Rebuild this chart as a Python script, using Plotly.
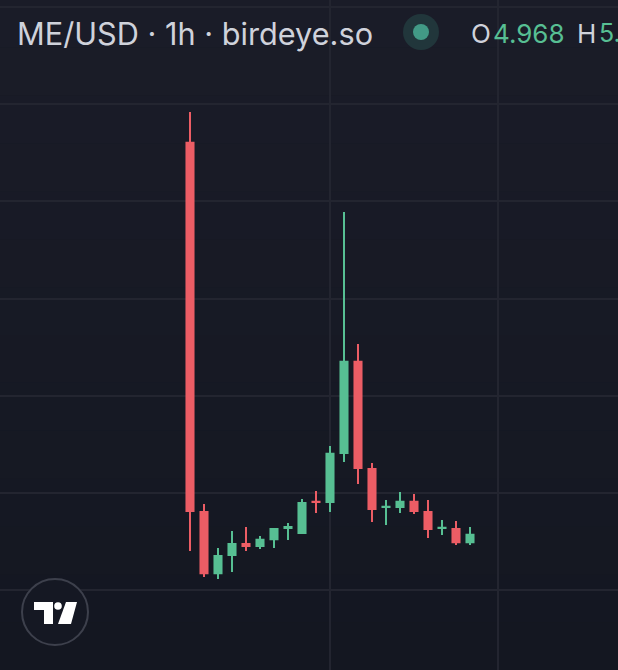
import plotly.graph_objects as go

# Candle data (price, one candle per hour)
candle_index = list(range(21))
open_prices = [13.222, 5.626, 4.329, 4.700, 4.967, 4.885, 5.029, 5.256, 5.153, 5.832,
               5.791, 6.800, 8.714, 6.511, 5.688, 5.688, 5.832, 5.626, 5.256, 5.276, 4.967]
high_prices = [13.840, 5.770, 4.865, 5.215, 5.297, 5.112, 5.276, 5.379, 5.873, 6.038,
               6.964, 11.781, 9.064, 6.614, 5.853, 6.017, 5.976, 5.853, 5.441, 5.420, 5.297]
low_prices = [4.803, 4.268, 4.226, 4.371, 4.803, 4.844, 4.865, 5.029, 5.153, 5.585,
              5.606, 6.635, 6.182, 5.400, 5.338, 5.585, 5.564, 5.070, 5.132, 4.926, 4.926]
close_prices = [5.606, 4.329, 4.720, 4.967, 4.885, 5.050, 5.276, 5.317, 5.811, 5.791,
                6.820, 8.714, 6.491, 5.647, 5.729, 5.832, 5.606, 5.235, 5.297, 4.967, 5.153]

price_grid = [4, 6, 8, 10, 12, 14, 16]
time_grid = [10, 22]

W = 618
H = 670
BG_TOP = (26, 28, 40)
BG_BOTTOM = (20, 23, 33)
GRID = '#232530'
RED = '#ec5d65'
GREEN = '#57bf93'
BANDS = 14

# the body outline adds a pixel on each side, so pull the body in by that much
INSET = 0.018


def px(x, y):
    # pixel position in the window -> paper coordinates
    return x / W, 1 - y / H


def path(points):
    parts = []
    for i, (x, y) in enumerate(points):
        a, b = px(x, y)
        parts.append(('M' if i == 0 else 'L') + f'{a:.5f},{b:.5f}')
    return ' '.join(parts) + ' Z'


def circle(cx, cy, r, fill, line_color=None, line_width=0):
    x0, y0 = px(cx - r, cy - r)
    x1, y1 = px(cx + r, cy + r)
    return dict(type='circle', xref='paper', yref='paper', x0=x0, y0=y0, x1=x1, y1=y1,
                fillcolor=fill, line=dict(color=line_color or fill, width=line_width),
                layer='above')


def label(text, x, y, color, size):
    a, b = px(x, y)
    return dict(text=text, x=a, y=b, xref='paper', yref='paper', xanchor='left', yanchor='middle',
                showarrow=False, font=dict(family='Inter', size=size, color=color))


def background_bands():
    # the page background fades slightly darker downwards
    bands = []
    for i in range(BANDS):
        t = i / (BANDS - 1)
        rgb = [round(a + (b - a) * t) for a, b in zip(BG_TOP, BG_BOTTOM)]
        bands.append(dict(type='rect', xref='paper', yref='paper', layer='below',
                          x0=0, x1=1, y0=1 - (i + 1) / BANDS, y1=1 - i / BANDS,
                          fillcolor=f'rgb({rgb[0]},{rgb[1]},{rgb[2]})', line=dict(width=0)))
    return bands


body_open = [o + INSET if c > o else o - INSET for o, c in zip(open_prices, close_prices)]
body_close = [c - INSET if c > o else c + INSET for o, c in zip(open_prices, close_prices)]

fig = go.Figure(go.Candlestick(
    x=candle_index,
    open=body_open,
    high=high_prices,
    low=low_prices,
    close=body_close,
    increasing=dict(line=dict(color=GREEN, width=2), fillcolor=GREEN),
    decreasing=dict(line=dict(color=RED, width=2), fillcolor=RED),
    whiskerwidth=0,
))

shapes = background_bands() + [
    circle(421, 32, 18, '#21363b'),
    circle(421, 32, 8, '#429a86'),
    circle(55, 612, 33, '#151823', '#3d404c', 2),
    dict(type='path', xref='paper', yref='paper', layer='above', fillcolor='white', line=dict(width=0),
         path=path([(34, 602), (53, 602), (53, 624), (44, 624), (44, 610), (34, 610)])),
    circle(58, 606, 3.8, 'white'),
    dict(type='path', xref='paper', yref='paper', layer='above', fillcolor='white', line=dict(width=0),
         path=path([(66, 602), (77, 602), (71, 624), (58, 624)])),
]

annotations = [
    label('ME/USD · 1h · birdeye.so', 15, 33, '#cfd2db', 30.7),
    label('O', 469, 33, '#cfd2db', 26),
    label('4.968', 491, 33, GREEN, 26),
    label('H', 575, 33, '#cfd2db', 26),
    label('5.', 597, 33, GREEN, 25),
]

fig.update_layout(
    width=W,
    height=H,
    margin=dict(l=0, r=0, t=0, b=0),
    paper_bgcolor='rgba(0,0,0,0)',
    plot_bgcolor='rgba(0,0,0,0)',
    showlegend=False,
    boxgap=0.28,
    shapes=shapes,
    annotations=annotations,
)

fig.update_xaxes(
    range=[-13.571, 30.571],
    tickvals=time_grid,
    showticklabels=False,
    showgrid=True,
    gridcolor=GRID,
    gridwidth=2,
    zeroline=False,
    rangeslider=dict(visible=False),
)

fig.update_yaxes(
    range=[2.353, 16.145],
    tickvals=price_grid,
    showticklabels=False,
    showgrid=True,
    gridcolor=GRID,
    gridwidth=2,
    zeroline=False,
)

fig.write_html(
    "out.html",
    config=dict(displayModeBar=False),
    post_script="document.body.style.margin='0';document.body.style.overflow='hidden';document.body.style.background='#171a25';",
)
